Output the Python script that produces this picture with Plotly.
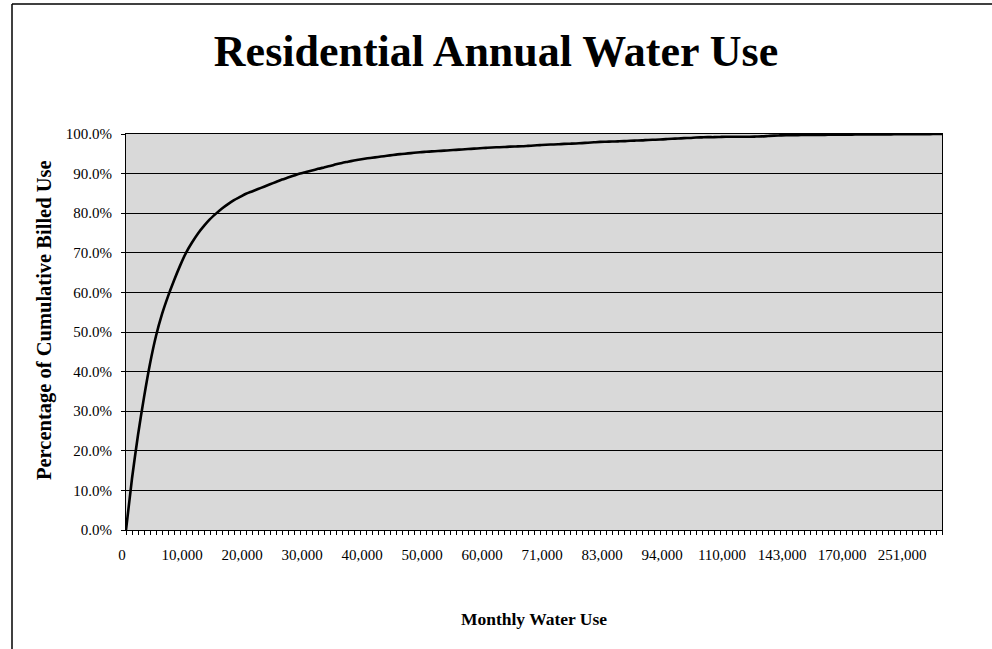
import plotly.graph_objects as go

# Monthly usage bins (gallons), in category-axis order
usage_bins = [
    0, 1000, 2000, 3000, 4000, 5000, 6000, 7000, 8000, 9000,
    10000, 11000, 12000, 13000, 14000, 15000, 16000, 17000, 18000, 19000,
    20000, 21000, 22000, 23000, 24000, 25000, 26000, 27000, 28000, 29000,
    30000, 31000, 32000, 33000, 34000, 35000, 36000, 37000, 38000, 39000,
    40000, 41000, 42000, 43000, 44000, 45000, 46000, 47000, 48000, 49000,
    50000, 51000, 52000, 53000, 54000, 55000, 56000, 57000, 58000, 59000,
    60000, 61000, 62000, 63000, 64000, 65000, 66000, 67000, 68000, 69000,
    71000, 72000, 73000, 74000, 75000, 76000, 77000, 78000, 79000, 81000,
    83000, 84000, 85000, 86000, 87000, 88000, 89000, 90000, 91000, 92000,
    94000, 95000, 96000, 97000, 99000, 100000, 101000, 103000, 105000, 107000,
    110000, 112000, 114000, 116000, 119000, 122000, 125000, 129000, 133000, 138000,
    143000, 145000, 147000, 149000, 151000, 154000, 157000, 160000, 163000, 166000,
    170000, 174000, 178000, 183000, 188000, 194000, 201000, 210000, 220000, 233000,
    251000, 268000, 290000, 315000, 350000, 410000, 520000,
]

# Cumulative share of billed use (%) at each bin
cumulative_pct = [
    0.0, 13.0, 24.0, 33.5, 42.0, 49.0, 54.5, 59.0, 63.0, 66.7,
    70.0, 72.6, 74.9, 76.8, 78.5, 79.9, 81.2, 82.3, 83.3, 84.1,
    84.9, 85.5, 86.1, 86.7, 87.3, 87.9, 88.5, 89.0, 89.5, 90.0,
    90.4, 90.8, 91.2, 91.55, 91.9, 92.35, 92.7, 93.0, 93.3, 93.55,
    93.8, 94.0, 94.2, 94.4, 94.6, 94.8, 94.95, 95.1, 95.25, 95.4,
    95.5, 95.6, 95.7, 95.8, 95.9, 96.0, 96.1, 96.2, 96.3, 96.4,
    96.5, 96.6, 96.65, 96.7, 96.8, 96.85, 96.9, 97.0, 97.1, 97.2,
    97.3, 97.35, 97.4, 97.5, 97.55, 97.6, 97.7, 97.8, 97.9, 98.0,
    98.05, 98.1, 98.15, 98.2, 98.3, 98.35, 98.4, 98.5, 98.55, 98.6,
    98.7, 98.8, 98.85, 98.95, 99.0, 99.1, 99.15, 99.2, 99.2, 99.25,
    99.3, 99.3, 99.3, 99.3, 99.3, 99.35, 99.4, 99.5, 99.6, 99.65,
    99.7, 99.7, 99.72, 99.74, 99.75, 99.77, 99.78, 99.8, 99.81, 99.82,
    99.84, 99.85, 99.86, 99.87, 99.88, 99.89, 99.9, 99.91, 99.92, 99.93,
    99.94, 99.95, 99.96, 99.97, 99.98, 99.99, 100.0,
]

# Category labels shown under the axis
tick_labels = [
    "0", "10,000", "20,000", "30,000", "40,000", "50,000", "60,000",
    "71,000", "83,000", "94,000", "110,000", "143,000", "170,000", "251,000",
]

y_ticks = [0, 10, 20, 30, 40, 50, 60, 70, 80, 90, 100]

positions = list(range(len(usage_bins)))
tick_positions = [usage_bins.index(int(t.replace(",", ""))) for t in tick_labels]

SERIF = "Liberation Serif, Times New Roman, serif"

fig = go.Figure()
fig.add_trace(go.Scatter(
    x=positions,
    y=cumulative_pct,
    mode="lines",
    line=dict(color="black", width=2.6, shape="spline", smoothing=0.6),
    hoverinfo="skip",
    showlegend=False,
))

W, H = 992, 649
L, R, T, B = 126, 50, 134, 119
pw, ph = W - L - R, H - T - B


def px_x(px):
    return (px - L) / pw


def px_y(py):
    return (H - B - py) / ph


fig.update_layout(
    width=W,
    height=H,
    margin=dict(l=L, r=R, t=T, b=B, pad=0),
    paper_bgcolor="white",
    plot_bgcolor="#d9d9d9",
    font=dict(family=SERIF, color="black", size=14),
    title=dict(
        text="<b>Residential Annual Water Use</b>",
        font=dict(family=SERIF, size=44, color="black"),
        x=0.5, xanchor="center",
        y=1 - 51 / H, yanchor="middle",
    ),
    xaxis=dict(
        range=[0, len(usage_bins) - 1],
        tickmode="array",
        tickvals=tick_positions,
        ticktext=tick_labels,
        ticks="outside",
        ticklen=4,
        tickcolor="black",
        tickfont=dict(family=SERIF, size=15),
        ticklabelshift=-4,
        ticklabelstandoff=7,
        minor=dict(tickmode="linear", tick0=0, dtick=1, ticks="outside",
                   ticklen=4, tickcolor="black", showgrid=False),
        showgrid=False,
        zeroline=False,
        showline=True,
        linecolor="black",
        linewidth=1,
        mirror=True,
        title=dict(text="<b>Monthly Water Use</b>",
                   font=dict(family=SERIF, size=17.5), standoff=50),
    ),
    yaxis=dict(
        range=[0, 100],
        tickmode="array",
        tickvals=y_ticks,
        ticktext=[f"{v:.1f}%" for v in y_ticks],
        ticks="outside",
        ticklen=4,
        tickcolor="black",
        tickfont=dict(family=SERIF, size=15),
        ticklabelstandoff=6,
        showgrid=True,
        gridcolor="black",
        gridwidth=1,
        zeroline=False,
        showline=True,
        linecolor="black",
        linewidth=1,
        mirror=True,
    ),
    annotations=[
        dict(text="<b>Percentage of Cumulative Billed Use</b>",
             xref="paper", yref="paper", x=px_x(44), y=px_y(320),
             xanchor="center", yanchor="middle", textangle=-90,
             showarrow=False, font=dict(family=SERIF, size=20.5)),
    ],
    shapes=[
        # outer chart frame (left and top edges)
        dict(type="line", xref="paper", yref="paper",
             x0=px_x(12), x1=px_x(12), y0=px_y(H + 2), y1=px_y(4),
             line=dict(color="black", width=1.5)),
        dict(type="line", xref="paper", yref="paper",
             x0=px_x(12), x1=px_x(W + 2), y0=px_y(4), y1=px_y(4),
             line=dict(color="black", width=1.5)),
    ],
)

fig.write_html("out.html")
